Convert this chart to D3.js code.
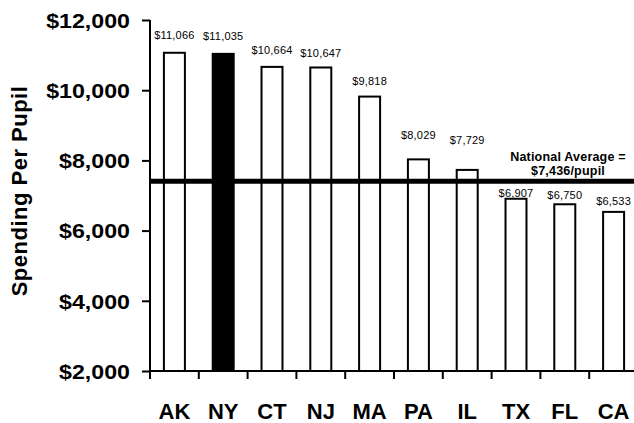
<!DOCTYPE html>
<html>
<head>
<meta charset="utf-8">
<script src="https://cdn.jsdelivr.net/npm/d3@7/dist/d3.min.js"></script>
<style>
  html, body { margin: 0; padding: 0; background: #fff; }
  svg { display: block; font-family: "Liberation Sans", Arial, Helvetica, sans-serif; }
</style>
</head>
<body>
<svg id="chart" width="634" height="423"></svg>
<script>
// Per-pupil spending by state
const states = ["AK", "NY", "CT", "NJ", "MA", "PA", "IL", "TX", "FL", "CA"];
const spending = [11066, 11035, 10664, 10647, 9818, 8029, 7729, 6907, 6750, 6533];
const highlightState = "NY";
const nationalAverage = 7436;
const yTicks = [2000, 4000, 6000, 8000, 10000, 12000];
const yTitle = "Spending Per Pupil";
const avgLabel = ["National Average =", "$7,436/pupil"];

// Layout
const W = 634, H = 423;
const plotLeft = 150, plotRight = 638, plotTop = 20, plotBottom = 371;
// hand-placed lift of each value label above its bar (px)
const labelLift = [14, 14, 13, 10, 12, 20, 26, 2, 5, 7];

const svg = d3.select("#chart");
const fmt = d3.format("$,");

const x = d3.scaleBand().domain(states).range([plotLeft, plotRight]).paddingInner(0).paddingOuter(0);
const y = d3.scaleLinear().domain([2000, 12000]).range([plotBottom, plotTop]);
const barW = x.bandwidth() * 0.43;

// Bars
svg.append("g").selectAll("rect")
  .data(states)
  .join("rect")
  .attr("x", d => x(d) + (x.bandwidth() - barW) / 2)
  .attr("y", (d, i) => y(spending[i]))
  .attr("width", barW)
  .attr("height", (d, i) => y(2000) - y(spending[i]))
  .attr("fill", d => d === highlightState ? "#000" : "#fff")
  .attr("stroke", "#000")
  .attr("stroke-width", 2);

// Value labels
svg.append("g").selectAll("text")
  .data(states)
  .join("text")
  .attr("x", d => x(d) + x.bandwidth() / 2)
  .attr("y", (d, i) => y(spending[i]) - labelLift[i])
  .attr("text-anchor", "middle")
  .attr("font-size", 11)
  .attr("letter-spacing", "0.2px")
  .attr("fill", "#000")
  .text((d, i) => fmt(spending[i]));

// National average line
svg.append("line")
  .attr("x1", plotLeft).attr("x2", W)
  .attr("y1", y(nationalAverage) + 1).attr("y2", y(nationalAverage) + 1)
  .attr("stroke", "#000").attr("stroke-width", 5);

const avgText = svg.append("text")
  .attr("x", 568)
  .attr("y", y(nationalAverage) - 19)
  .attr("text-anchor", "middle")
  .attr("font-size", 12.5)
  .attr("font-weight", "bold")
  .attr("letter-spacing", "0.2px")
  .attr("fill", "#000");
avgText.selectAll("tspan").data(avgLabel).join("tspan")
  .attr("x", 568)
  .attr("dy", (d, i) => i === 0 ? 0 : 13.5)
  .text(d => d);

// Y axis
const yAxis = svg.append("g")
  .attr("transform", `translate(${plotLeft},0)`)
  .call(d3.axisLeft(y).tickValues(yTicks).tickSize(8).tickPadding(12).tickFormat(fmt));
yAxis.select(".domain").attr("stroke-width", 2).attr("d", `M0,${plotTop}V${plotBottom}`);
yAxis.selectAll(".tick line").attr("stroke-width", 2);
yAxis.selectAll(".tick text")
  .attr("font-size", 20)
  .attr("font-weight", "bold")
  .attr("font-family", "'Liberation Sans', Arial, sans-serif")
  .attr("fill", "#000")
  .attr("dy", "0.36em")
  .each(function () {
    // wide-set tick labels
    const len = this.getComputedTextLength();
    d3.select(this).attr("textLength", len * 1.16).attr("lengthAdjust", "spacingAndGlyphs");
  });

// X axis
const xAxis = svg.append("g")
  .attr("transform", `translate(0,${plotBottom})`)
  .call(d3.axisBottom(x).tickSize(0).tickPadding(32));
xAxis.select(".domain").attr("stroke-width", 2).attr("d", `M${plotLeft},0H${W}`);
xAxis.selectAll(".tick text")
  .attr("font-size", 22)
  .attr("font-weight", "bold")
  .attr("font-family", "'Liberation Sans', Arial, sans-serif")
  .attr("fill", "#000");
// tick marks between categories
xAxis.append("g").selectAll("line")
  .data(states)
  .join("line")
  .attr("x1", d => x(d)).attr("x2", d => x(d))
  .attr("y1", 0).attr("y2", 8)
  .attr("stroke", "#000").attr("stroke-width", 2);

// Y axis title
svg.append("text")
  .attr("transform", `translate(27,${(85 + 297) / 2}) rotate(-90)`)
  .attr("text-anchor", "middle")
  .attr("font-size", 22)
  .attr("font-weight", "bold")
  .attr("letter-spacing", "0.5px")
  .attr("fill", "#000")
  .text(yTitle);
</script>
</body>
</html>
